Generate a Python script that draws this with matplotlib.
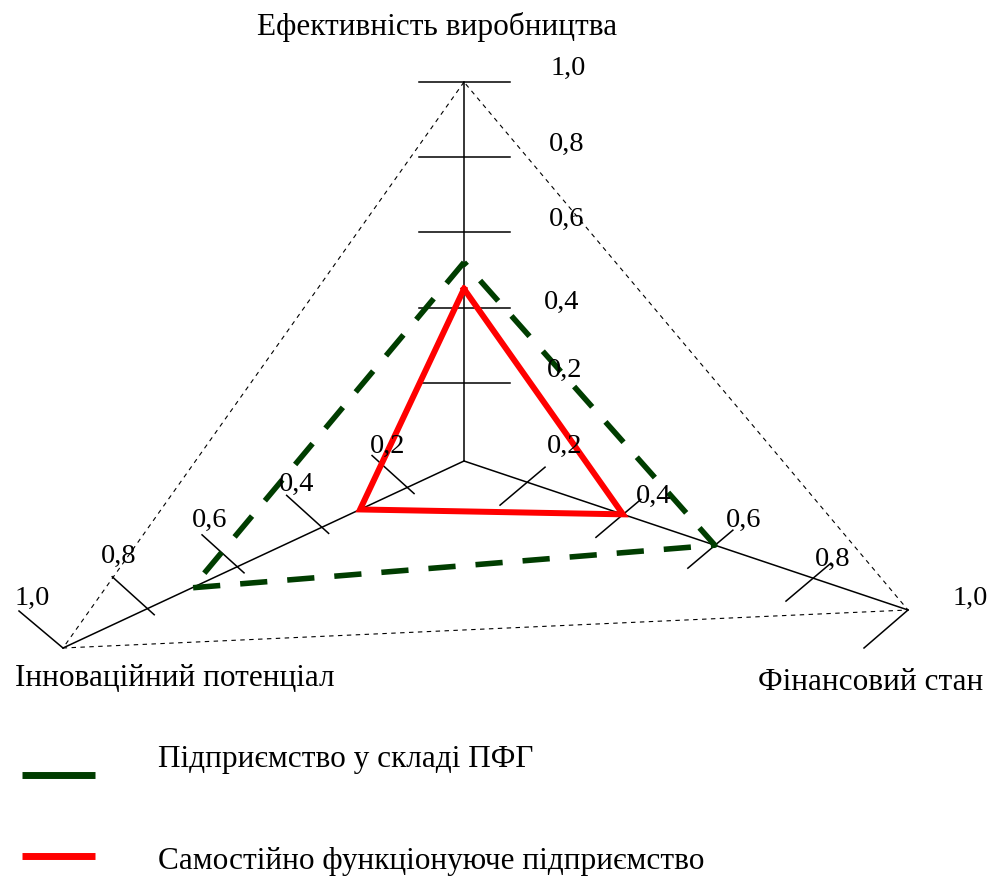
import numpy as np
import matplotlib.pyplot as plt

# data
axis_names = ['Ефективність виробництва', 'Інноваційний потенціал', 'Фінансовий стан']
scale_values = [0.0, 0.2, 0.4, 0.6, 0.8, 1.0]
tick_labels = ['0,2', '0,4', '0,6', '0,8', '1,0']
pfg_values = [0.52, 0.70, 0.60]    # Підприємство у складі ПФГ
solo_values = [0.45, 0.31, 0.40]   # Самостійно функціонуюче підприємство
series_names = ['Підприємство у складі ПФГ', 'Самостійно функціонуюче підприємство']

# layout (pixel coordinates, y goes down)
W, H = 989, 877
center = np.array([464.0, 461.0])
ends = [np.array([464.0, 82.0]), np.array([63.0, 648.0]), np.array([908.0, 610.0])]
# where the hand-drawn ticks sit along each axis (fraction of axis length)
tick_frac = [[0, .206, .404, .604, .802, 1.0],
             [0, .142, .355, .566, .790, 1.0],
             [0, .142, .358, .565, .786, 1.0]]
# tick segment ends relative to the crossing point (last entry: the 1,0 tick)
tick_seg = [[((-45, 0), (46, 0))] * 5,
            [((-35, -32), (7, 6))] * 4 + [((-44, -37), (0, 0))],
            [((-27, 23), (18, -15))] * 4 + [((-44, 38), (0, 0))]]
# label offsets from the crossing point, one per tick (0,2 ... 1,0)
label_off = [[(101, -13), (98, -5), (103, -13), (103, -13), (104, -14)],
             [(-19, -41), (-25, -43), (-27, -46), (-29, -52), (-31, -50)],
             [(38, -36), (31, -18), (29, -25), (20, -19), (62, -12)]]
GREEN = '#003d00'
RED = '#ff0000'
FONT = ['Liberation Serif', 'DejaVu Serif']


def point(i, v):
    f = np.interp(v, scale_values, tick_frac[i])
    return center + f * (ends[i] - center)


plt.rcParams['font.family'] = FONT
fig = plt.figure(figsize=(W / 100, H / 100), dpi=100)
ax = fig.add_axes([0, 0, 1, 1])
ax.set_xlim(0, W)
ax.set_ylim(H, 0)
ax.axis('off')

# outer dotted triangle
outer = np.array(ends + [ends[0]])
ax.plot(outer[:, 0], outer[:, 1], color='black', lw=0.8, linestyle=(0, (4, 4)))

# axes with ticks and labels
for i in range(3):
    ax.plot([center[0], ends[i][0]], [center[1], ends[i][1]], color='black', lw=1.1)
    for k, v in enumerate(scale_values[1:]):
        p = point(i, v)
        a, b = tick_seg[i][k]
        ax.plot([p[0] + a[0], p[0] + b[0]], [p[1] + a[1], p[1] + b[1]], color='black', lw=1.1)
        dx, dy = label_off[i][k]
        ax.text(p[0] + dx, p[1] + dy, tick_labels[k], fontsize=20.5, ha='center', va='center')

# series polygons
pfg = np.array([point(i, v) for i, v in enumerate(pfg_values)] + [point(0, pfg_values[0])])
solo = np.array([point(i, v) for i, v in enumerate(solo_values)] + [point(0, solo_values[0])])
ax.plot(pfg[:, 0], pfg[:, 1], color=GREEN, lw=4, linestyle=(0, (4.9, 3.6)),
        dash_capstyle='butt', solid_joinstyle='miter')
ax.plot(solo[:, 0], solo[:, 1], color=RED, lw=4.3, solid_joinstyle='miter')

# axis names
ax.text(437, 27, axis_names[0], fontsize=22.5, ha='center', va='center')
ax.text(15, 678, axis_names[1], fontsize=22.5, ha='left', va='center')
ax.text(983, 683, axis_names[2], fontsize=22.5, ha='right', va='center')

# legend
ax.plot([22, 95], [775, 775], color=GREEN, lw=5, solid_capstyle='butt')
ax.plot([22, 95], [856, 856], color=RED, lw=5, solid_capstyle='butt')
ax.text(158, 760, series_names[0], fontsize=22.5, ha='left', va='center')
ax.text(158, 862, series_names[1], fontsize=22.5, ha='left', va='center')

fig.savefig('out.png', dpi=100)
